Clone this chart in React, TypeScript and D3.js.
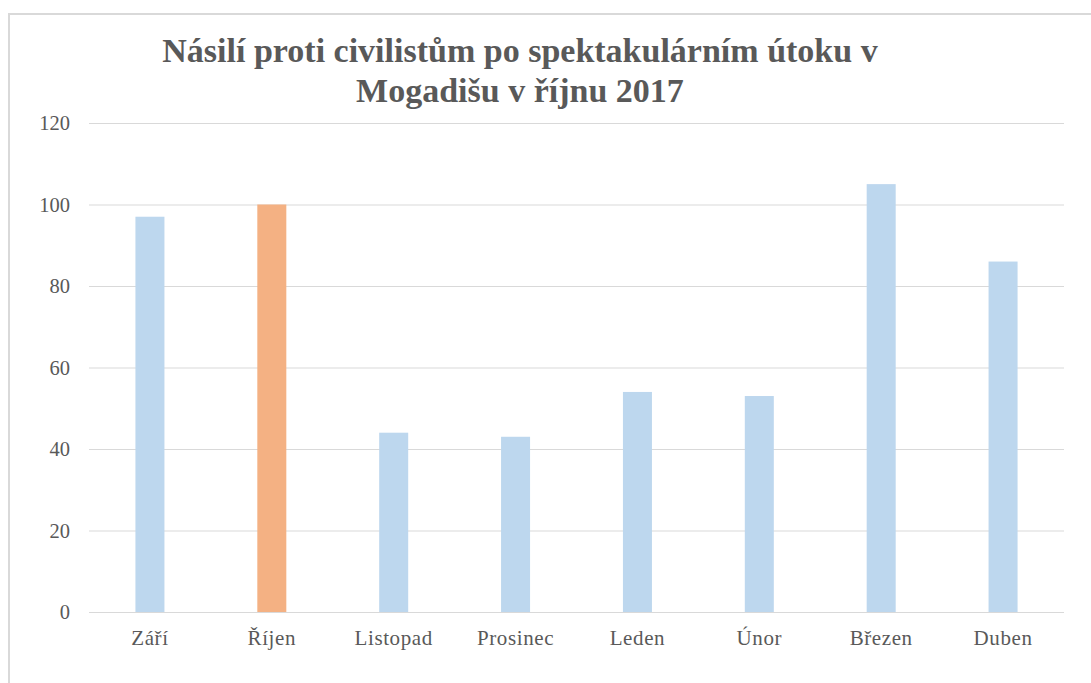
import React, { useEffect, useRef } from 'react';
import * as d3 from 'd3';

const months = ['Září', 'Říjen', 'Listopad', 'Prosinec', 'Leden', 'Únor', 'Březen', 'Duben'];
const attacks = [97, 100, 44, 43, 54, 53, 105, 86];
const highlighted = ['Říjen'];
const yTicks = [0, 20, 40, 60, 80, 100, 120];
const titleLines = ['Násilí proti civilistům po spektakulárním útoku v', 'Mogadišu v říjnu 2017'];

const App = () => {
  const ref = useRef<SVGSVGElement>(null);

  useEffect(() => {
    const width = 1091;
    const height = 683;
    const margin = { top: 123, right: 27, bottom: 71, left: 89 };

    const svg = d3.select(ref.current);
    svg.selectAll('*').remove();

    // frame of the chart area (only top and left edges show in the crop)
    svg
      .append('path')
      .attr('d', `M9,${height} L9,14 L${width},14`)
      .attr('fill', 'none')
      .attr('stroke', '#d9d9d9')
      .attr('stroke-width', 2);

    const x = d3
      .scaleBand()
      .domain(months)
      .range([margin.left, width - margin.right])
      .paddingInner(0.762)
      .paddingOuter(0.381);

    const y = d3
      .scaleLinear()
      .domain([0, 120])
      .range([height - margin.bottom, margin.top]);

    const font = '"Liberation Serif", "Times New Roman", serif';

    svg
      .append('g')
      .selectAll('line')
      .data(yTicks)
      .enter()
      .append('line')
      .attr('x1', margin.left)
      .attr('x2', width - margin.right)
      .attr('y1', (d) => y(d) + 0.5)
      .attr('y2', (d) => y(d) + 0.5)
      .attr('stroke', '#d9d9d9')
      .attr('stroke-width', 1);

    svg
      .append('g')
      .selectAll('rect')
      .data(months)
      .enter()
      .append('rect')
      .attr('x', (d) => x(d))
      .attr('width', x.bandwidth())
      .attr('y', (d, i) => y(attacks[i]))
      .attr('height', (d, i) => y(0) - y(attacks[i]))
      .attr('fill', (d) => (highlighted.includes(d) ? '#f4b183' : '#bdd7ee'));

    svg
      .append('g')
      .selectAll('text')
      .data(yTicks)
      .enter()
      .append('text')
      .attr('x', 70)
      .attr('y', (d) => y(d))
      .attr('dy', '0.35em')
      .attr('text-anchor', 'end')
      .attr('font-family', font)
      .attr('font-size', 20.5)
      .attr('fill', '#595959')
      .text((d) => d);

    svg
      .append('g')
      .selectAll('text')
      .data(months)
      .enter()
      .append('text')
      .attr('x', (d) => x(d) + x.bandwidth() / 2)
      .attr('y', 645)
      .attr('text-anchor', 'middle')
      .attr('font-family', font)
      .attr('font-size', 21)
      .attr('letter-spacing', 0.6)
      .attr('fill', '#595959')
      .text((d) => d);

    svg
      .append('g')
      .selectAll('text')
      .data(titleLines)
      .enter()
      .append('text')
      .attr('x', 520)
      .attr('y', (d, i) => 62 + i * 40)
      .attr('text-anchor', 'middle')
      .attr('font-family', font)
      .attr('font-weight', 'bold')
      .attr('font-size', 34)
      .attr('fill', '#595959')
      .text((d) => d);
  }, []);

  return (
    <svg
      ref={ref}
      width={1091}
      height={683}
      style={{ position: 'absolute', left: 0, top: 0, background: '#fff' }}
    />
  );
};

export default App;
